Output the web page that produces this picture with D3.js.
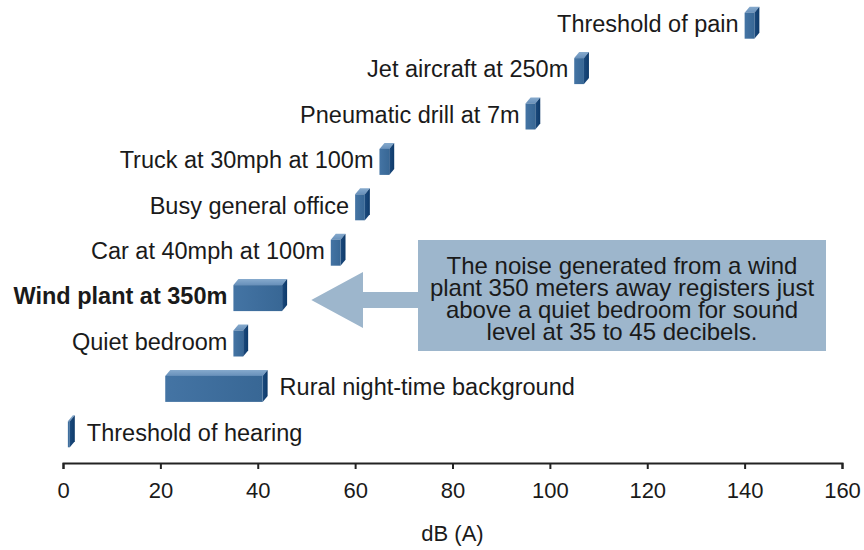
<!DOCTYPE html>
<html>
<head>
<meta charset="utf-8">
<script src="https://cdn.jsdelivr.net/npm/d3@7"></script>
<style>
  body { margin: 0; background: #fff; }
  svg { display: block; }
  text { font-family: "Liberation Sans", Arial, sans-serif; fill: #1a1a1a; }
</style>
</head>
<body>
<svg id="chart" width="864" height="550"></svg>
<script>
// Sound sources, loudest first, with their range in dB(A)
const sources = [
  "Threshold of pain",
  "Jet aircraft at 250m",
  "Pneumatic drill at 7m",
  "Truck at 30mph at 100m",
  "Busy general office",
  "Car at 40mph at 100m",
  "Wind plant at 350m",
  "Quiet bedroom",
  "Rural night-time background",
  "Threshold of hearing"
];
const lowDb  = [140, 105, 95, 65, 60, 55, 35, 35, 21, 1];
const highDb = [142, 107, 97, 67, 62, 57, 45, 37, 41, 1.4];
const xTicks = [0, 20, 40, 60, 80, 100, 120, 140, 160];
const highlighted = "Wind plant at 350m";
const noteLines = [
  "The noise generated from a wind",
  "plant 350 meters away registers just",
  "above a quiet bedroom for sound",
  "level at 35 to 45 decibels."
];

const svg = d3.select("#chart");
const x = d3.scaleLinear().domain([0, 160]).range([63, 842]);
const y = d3.scaleBand().domain(sources).range([1, 455]);

// 3D box geometry: depth offset and front face height
const DX = 5, DY = 6, H = 26;

const defs = svg.append("defs");
function grad(id, a, b, vertical) {
  const g = defs.append("linearGradient").attr("id", id)
    .attr("x1", 0).attr("y1", 0).attr("x2", vertical ? 0 : 1).attr("y2", vertical ? 1 : 0);
  g.append("stop").attr("offset", "0%").attr("stop-color", a);
  g.append("stop").attr("offset", "100%").attr("stop-color", b);
}
grad("frontFill", "#4474a4", "#386795", false);
grad("topFill", "#86aacd", "#6890ba", true);
grad("sideFill", "#1b4a7d", "#0e3a6a", false);

const rows = sources.map((s, i) => ({ name: s, lo: lowDb[i], hi: highDb[i] }));

const row = svg.append("g").selectAll("g").data(rows).join("g");

row.each(function (d) {
  const g = d3.select(this);
  const cy = y(d.name) + y.bandwidth() / 2;
  const top = cy - 1 - (H + DY) / 2 + DY;
  const x0 = x(d.lo), x1 = x(d.hi);

  g.append("polygon")
    .attr("points", [[x0, top], [x0 + DX, top - DY], [x1 + DX, top - DY], [x1, top]].join(" "))
    .attr("fill", "url(#topFill)");
  g.append("polygon")
    .attr("points", [[x1, top], [x1 + DX, top - DY], [x1 + DX, top - DY + H], [x1, top + H]].join(" "))
    .attr("fill", "url(#sideFill)");
  g.append("rect")
    .attr("x", x0).attr("y", top).attr("width", x1 - x0).attr("height", H)
    .attr("fill", "url(#frontFill)");

  const label = g.append("text")
    .attr("y", cy).attr("dy", "0.35em")
    .style("font-size", "23.5px")
    .style("font-weight", d.name === highlighted ? "bold" : "normal")
    .text(d.name);
  const w = label.node().getComputedTextLength();
  if (x0 - 6 - w < 8) {
    label.attr("x", x1 + DX + 12).attr("text-anchor", "start");
  } else {
    label.attr("x", x0 - 6).attr("text-anchor", "end");
  }
});

// Callout: arrow pointing at the wind plant box, with explanatory note
const note = svg.append("g");
const tipX = x(51), tipY = 300, headX = 363, boxX = 418;
note.append("polygon")
  .attr("points", [
    [tipX, tipY], [headX, tipY - 28], [headX, tipY - 8], [boxX + 2, tipY - 8],
    [boxX + 2, tipY + 8], [headX, tipY + 8], [headX, tipY + 28]
  ].join(" "))
  .attr("fill", "#9db6cc");
note.append("rect")
  .attr("x", boxX).attr("y", 240).attr("width", 408).attr("height", 111)
  .attr("fill", "#9db6cc");
note.append("g").selectAll("text").data(noteLines).join("text")
  .attr("x", 622)
  .attr("y", (d, i) => 266 + i * 21.7)
  .attr("dy", "0.35em")
  .attr("text-anchor", "middle")
  .style("font-size", "24px")
  .text(d => d);

// Horizontal axis
const axis = svg.append("g")
  .attr("transform", "translate(0,463)")
  .call(d3.axisBottom(x).tickValues(xTicks).tickSize(6).tickPadding(13));
axis.select(".domain").attr("stroke", "#222").attr("stroke-width", 2);
axis.selectAll(".tick line").attr("stroke", "#222").attr("stroke-width", 2);
axis.selectAll(".tick text")
  .style("font-size", "22px")
  .style("font-family", "'Liberation Sans', Arial, sans-serif")
  .attr("fill", "#1a1a1a");

svg.append("text")
  .attr("x", x(80)).attr("y", 533).attr("dy", "0.35em")
  .attr("text-anchor", "middle")
  .style("font-size", "22px")
  .text("dB (A)");
</script>
</body>
</html>
